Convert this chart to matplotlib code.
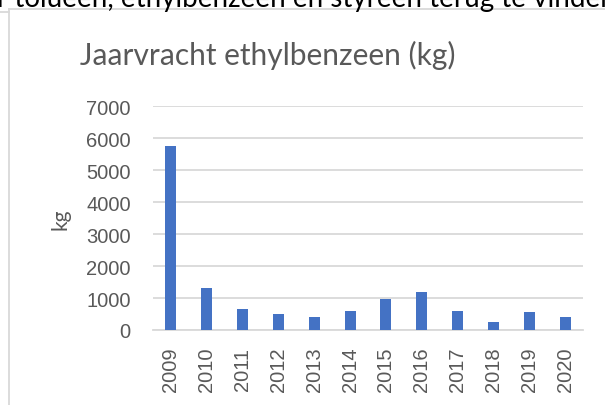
import matplotlib
matplotlib.use("Agg")
import matplotlib.pyplot as plt
from matplotlib.lines import Line2D

years = ["2009", "2010", "2011", "2012", "2013", "2014", "2015", "2016",
         "2017", "2018", "2019", "2020"]
values = [5770, 1320, 660, 490, 400, 585, 955, 1175, 580, 260, 555, 400]
yticks = [0, 1000, 2000, 3000, 4000, 5000, 6000, 7000]

title = "Jaarvracht ethylbenzeen (kg)"
ylabel = "kg"
doc_text = "r tolueen, ethylbenzeen en styreen terug te vinden."

W, H = 605, 406
fig = plt.figure(figsize=(W / 100, H / 100), dpi=100)
fig.patch.set_facecolor("white")

def fx(px):
    return px / W

def fy(py):
    return 1 - py / H

# document text clipped at top
fig.text(fx(-3), fy(6.5), doc_text, fontsize=20, family="Lato", color="black",
         va="baseline", ha="left")

# chart frame
grey = "#d9d9d9"
fig.add_artist(Line2D([fx(9), fx(9)], [fy(9.5), fy(410)], color=grey, lw=1.3))
fig.add_artist(Line2D([fx(9), fx(610)], [fy(9.5), fy(9.5)], color=grey, lw=1.3))
fig.add_artist(Line2D([fx(0), fx(9)], [fy(12.7), fy(12.7)], color=grey, lw=1.3))

ax = fig.add_axes([fx(153), fy(331), fx(583) - fx(153), fy(107.3) - fy(331)])
x = range(len(years))
ax.bar(x, values, width=0.31, color="#4472C4", zorder=3)
ax.set_xlim(-0.5, len(years) - 0.5)
ax.set_ylim(0, 7000)
ax.set_yticks(yticks)
ax.set_yticklabels([str(v) for v in yticks], family="Liberation Sans",
                   fontsize=14.5, color="#595959")
ax.set_xticks(list(x))
ax.set_xticklabels(years, rotation=90, family="Liberation Sans",
                   fontsize=14.5, color="#595959")
ax.tick_params(axis="both", length=0)
ax.tick_params(axis="y", pad=16)
ax.tick_params(axis="x", pad=12)
ax.grid(axis="y", color=grey, lw=1.3, zorder=0)
for s in ["top", "right", "left"]:
    ax.spines[s].set_visible(False)
ax.spines["bottom"].set_color(grey)
ax.spines["bottom"].set_linewidth(1.3)

fig.text(fx(60), fy(219), ylabel, rotation=90, fontsize=15, family="Lato",
         color="#595959", ha="center", va="center")

fig.text(fx(268), fy(65), title, fontsize=21.5, family="Lato",
         color="#595959", ha="center", va="baseline")

fig.savefig("out.png", dpi=100, facecolor="white")
